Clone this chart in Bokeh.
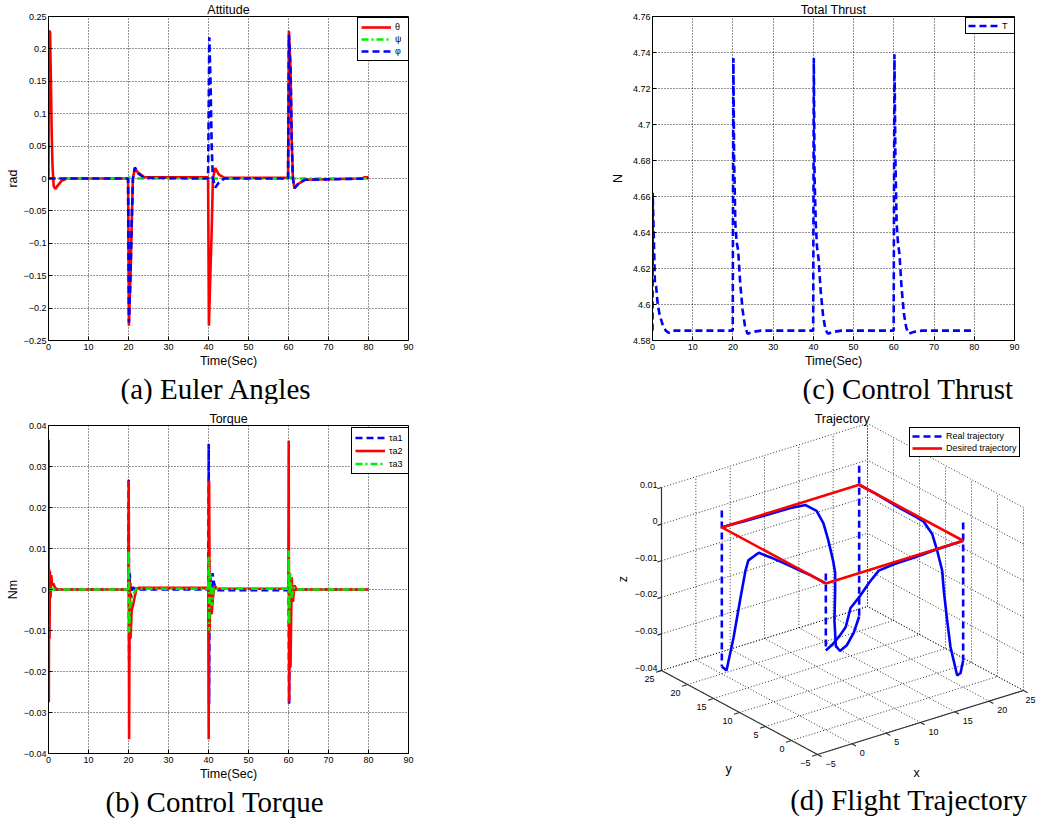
import numpy as np
from bokeh.plotting import figure
from bokeh.layouts import column, row
from bokeh.models import Range1d, FixedTicker, Legend, LegendItem, Title
from bokeh.embed import file_html
from bokeh.resources import INLINE
from bokeh.core.properties import value

SANS = "Liberation Sans"
SERIF = "Liberation Serif"
RED = "#ff0000"
GREEN = "#00ee00"
BLUE = "#0000ff"

# ---------------- data ----------------
TIME_TICKS = [0, 10, 20, 30, 40, 50, 60, 70, 80, 90]
ATT_TICKS = [-0.25, -0.2, -0.15, -0.1, -0.05, 0, 0.05, 0.1, 0.15, 0.2, 0.25]
TORQUE_TICKS = [-0.04, -0.03, -0.02, -0.01, 0, 0.01, 0.02, 0.03, 0.04]
THRUST_TICKS = [4.58, 4.6, 4.62, 4.64, 4.66, 4.68, 4.7, 4.72, 4.74, 4.76]

# (a) Euler angles
THETA_T = [0, 0.1, 0.4, 0.6, 0.8, 1.0, 1.3, 1.7, 2.3, 3.2, 4.5,
           19.9, 20.1, 20.5, 20.8, 21.1, 21.6, 22.4, 24.0,
           39.9, 40.1, 40.5, 40.8, 41.1, 41.7, 42.6, 44.0,
           59.9, 60.1, 60.5, 60.8, 61.1, 61.5, 62.3, 64.0,
           78.5, 79.0, 80.0]
THETA = [0, 0.228, 0.226, 0.15, 0.07, 0.02, -0.012, -0.016, -0.011, -0.004, 0.0,
         0.0, -0.227, -0.15, -0.07, 0.0, 0.016, 0.009, 0.002,
         0.002, -0.227, -0.14, -0.08, 0.0, 0.016, 0.006, 0.001,
         0.001, 0.228, 0.17, 0.06, 0.0, -0.015, -0.009, -0.002,
         0.0, 0.002, 0.002]
PSI_T = [0, 19.9, 20.3, 20.8, 21.5, 39.9, 40.3, 40.8, 41.5, 59.9, 60.3, 60.8, 61.5, 80]
PSI = [0, 0, 0.002, -0.001, 0, 0, -0.002, 0.001, 0, 0, 0.002, -0.001, 0, 0]
PHI_T = [0, 19.9, 20.1, 20.5, 20.8, 21.1, 21.6, 22.4, 24.0,
         39.9, 40.2, 40.5, 40.8, 41.1, 41.7, 42.6, 44.0,
         59.9, 60.1, 60.5, 60.8, 61.1, 61.5, 62.3, 64.0, 80.0]
PHI = [0, 0.0, -0.222, -0.15, -0.07, 0.0, 0.017, 0.008, 0.001,
       0.0, 0.218, 0.15, 0.05, 0.0, -0.014, -0.006, 0.0,
       0.0, 0.222, 0.17, 0.06, 0.0, -0.015, -0.009, -0.002, 0.0]

# (b) control torque
TAU1_T = [0, 0.05, 0.1, 0.3, 1.0,
          19.95, 20.05, 20.15, 20.3, 20.6, 21.0, 22.0,
          39.95, 40.05, 40.15, 40.3, 40.6, 41.0, 41.4, 42.0,
          59.95, 60.05, 60.15, 60.4, 60.8, 61.5, 80.0]
TAU1 = [0, 0.002, -0.002, 0.001, 0,
        0, 0.0272, -0.017, 0.004, -0.002, 0.0005, 0,
        0, 0.0355, -0.028, 0.004, -0.003, 0.004, 0.0015, -0.0002,
        -0.0002, 0.005, -0.028, 0.002, -0.001, 0, 0]
TAU2_T = [0, 0.03, 0.08, 0.15, 0.25, 0.35, 0.5, 0.7, 0.9, 1.2, 1.6, 2.2,
          19.95, 20.05, 20.15, 20.3, 20.5, 20.8, 21.1, 21.5, 22.0, 22.5,
          39.95, 40.05, 40.15, 40.3, 40.5, 40.8, 41.1, 41.5, 42.0, 42.5,
          59.95, 60.05, 60.15, 60.3, 60.5, 60.8, 61.1, 61.5, 62.0, 62.5,
          80.0]
TAU2 = [0, 0.0365, -0.0275, 0.005, -0.012, 0.0045, -0.002, 0.0035, 0.001, 0.0015, 0.0005, 0.0,
        0.0, 0.0265, -0.0365, 0.002, -0.012, -0.005, -0.004, -0.002, 0.0002, 0.0004,
        0.0004, -0.0365, 0.0265, -0.01, 0.003, -0.006, -0.002, 0.001, 0.0002, 0.0002,
        0.0002, 0.0363, -0.0275, 0.003, -0.019, 0.003, -0.003, 0.001, 0.0, 0.0,
        0.0]
TAU3_T = [0, 19.95, 20.05, 20.15, 20.4, 20.8, 21.3, 22.0,
          39.95, 40.05, 40.15, 40.4, 40.8, 41.3, 42.0,
          59.95, 60.05, 60.15, 60.4, 60.8, 61.3, 62.0, 80.0]
TAU3 = [0, 0, 0.0095, -0.0105, -0.004, -0.003, -0.001, 0.0002,
        0.0002, 0.008, -0.01, 0.004, -0.004, 0.0005, 0.0002,
        0.0002, 0.0095, -0.0085, 0.004, -0.002, 0.0005, 0.0, 0.0]

# (c) total thrust
THRUST_T = [0, 0.05, 0.3, 0.6, 0.9, 1.3, 1.8, 2.5, 3.3, 4.0, 5.0,
            19.95, 20.1, 20.3, 20.6, 20.9, 21.3, 21.8, 22.4, 23.0, 23.6, 25.0, 27.0,
            39.95, 40.1, 40.3, 40.6, 40.9, 41.3, 41.8, 42.4, 43.0, 43.6, 45.0, 47.0,
            59.95, 60.15, 60.4, 60.7, 61.0, 61.4, 61.9, 62.5, 63.1, 63.7, 65.0, 67.0,
            80.0]
THRUST = [4.5855, 4.662, 4.640, 4.612, 4.610, 4.600, 4.594, 4.589, 4.5855, 4.5843, 4.5855,
          4.5855, 4.737, 4.680, 4.645, 4.635, 4.630, 4.612, 4.597, 4.588, 4.5838, 4.5848, 4.5855,
          4.5855, 4.737, 4.670, 4.645, 4.632, 4.625, 4.608, 4.594, 4.586, 4.5838, 4.5848, 4.5855,
          4.5855, 4.739, 4.680, 4.645, 4.635, 4.628, 4.610, 4.595, 4.587, 4.5838, 4.5848, 4.5855,
          4.5855]

# (d) 3-D trajectory
X3_TICKS = [-5, 0, 5, 10, 15, 20, 25]
Y3_TICKS = [-5, 0, 5, 10, 15, 20, 25]
Z3_TICKS = [-0.04, -0.03, -0.02, -0.01, 0, 0.01]

DESIRED_X = [0, 20, 20, 0, 0]
DESIRED_Y = [0, 0, 20, 20, 0]
DESIRED_Z = [0, 0, 0, 0, 0]

# vertical jumps of the real trajectory at the waypoints
JUMP_X = [0, 20, 20, 0]
JUMP_Y = [0, 0, 20, 20]
JUMP_ZTOP = [0.0027, 0.0050, 0.0052, 0.0046]
JUMP_ZBOT = [-0.0183, -0.0327, -0.0360, -0.0380]

# recovery legs of the real trajectory
LEG1_X = [0, 1.0, 2.0, 2.9, 3.6, 5.0, 6.3, 7.7, 10, 13, 16, 20]
LEG1_Y = [0, 0, 0, 0, 0, 0, 0, 0, 0, 0, 0, 0]
LEG1_Z = [-0.0183, -0.0172, -0.0155, -0.0136, -0.0088, -0.0063, -0.0035, -0.0010, -0.0005, -0.0004, -0.0001, 0]
LEG2_X = [20, 20, 20, 20, 20, 20, 20, 20, 20, 20, 20, 20, 20, 20, 20]
LEG2_Y = [0, 0.5, 1.15, 2.44, 3.08, 3.73, 4.04, 5.0, 5.96, 7.58, 9, 12, 15, 17, 20]
LEG2_Z = [-0.0327, -0.0365, -0.0377, -0.0309, -0.0241, -0.0164, -0.0112, -0.0065, -0.0027, -0.0006,
          -0.0004, -0.0004, -0.0002, 0, 0]
LEG3_X = [20, 19.2, 18.2, 17.2, 16.6, 16.4, 16.5, 16.5, 16.2, 15.5, 14.8, 13.8, 12.2, 10, 6, 3, 1, 0]
LEG3_Y = [20, 20, 20, 20, 20, 20, 20, 20, 20, 20, 20, 20, 20, 20, 20, 20, 20, 20]
LEG3_Z = [-0.036, -0.040, -0.0428, -0.0438, -0.042, -0.035, -0.027, -0.022, -0.0185, -0.0125,
          -0.0075, -0.0035, -0.001, -0.0005, -0.0004, -0.0002, 0, 0]
LEG4_X = [0, 0, 0, 0, 0, 0, 0, 0, 0, 0, 0, 0, 0]
LEG4_Y = [20, 19.1, 17.75, 16.4, 15.45, 14.9, 12.9, 10.6, 9.3, 7, 5, 3, 0]
LEG4_Z = [-0.038, -0.0384, -0.0284, -0.0164, -0.0083, -0.0051, -0.0015, -0.001, -0.0008, -0.0005,
          -0.0003, 0, 0]


# ---------------- helpers ----------------
def fmt_tick(v):
    return ("%g" % v).replace("-", "\u2212")


def panel(width, height, borders, y_lim, y_ticks, y_label, y_label_standoff, title, caption, cap_align, cap_offset):
    left, right, top, bottom = borders
    p = figure(width=width, height=height, x_range=Range1d(0, 90), y_range=Range1d(*y_lim),
               output_backend="svg", toolbar_location=None, title=title,
               min_border_left=left, min_border_right=right,
               min_border_top=top, min_border_bottom=bottom)
    p.background_fill_color = "white"
    p.border_fill_color = "white"
    p.outline_line_color = "black"
    p.outline_line_width = 1
    p.outline_line_alpha = 1.0
    p.title.align = "center"
    p.title.text_font = SANS
    p.title.text_font_size = "12.5px"
    p.title.text_font_style = "normal"
    p.title.text_color = "black"
    p.title.standoff = 0
    for ax, ticks in ((p.xaxis, TIME_TICKS), (p.yaxis, y_ticks)):
        ax.ticker = FixedTicker(ticks=ticks)
        ax.major_label_overrides = {t: fmt_tick(t) for t in ticks}
        ax.major_label_text_font = SANS
        ax.major_label_text_font_size = "9px"
        ax.major_label_text_color = "black"
        ax.axis_line_color = "black"
        ax.major_tick_line_color = "black"
        ax.major_tick_in = 4
        ax.major_tick_out = 0
        ax.minor_tick_in = 0
        ax.minor_tick_out = 0
        ax.axis_label_text_font = SANS
        ax.axis_label_text_font_size = "12.5px"
        ax.axis_label_text_font_style = "normal"
        ax.axis_label_text_color = "black"
    p.xaxis.major_label_standoff = 3
    p.xaxis.axis_label_standoff = 1
    p.yaxis.major_label_standoff = 2
    p.yaxis.axis_label_standoff = y_label_standoff
    p.xaxis.axis_label = "Time(Sec)"
    p.yaxis.axis_label = y_label
    for g, ticks in ((p.xgrid, TIME_TICKS), (p.ygrid, y_ticks)):
        g.ticker = FixedTicker(ticks=ticks)
        g.grid_line_color = "black"
        g.grid_line_dash = "1 2"
        g.grid_line_alpha = 0.85
        g.grid_line_width = 1
    p.add_layout(Title(text=caption, align=cap_align, offset=cap_offset, text_font=SERIF,
                       text_font_size="29px", text_font_style="normal", text_color="black",
                       standoff=0), "below")
    return p


def make_legend(items, loc, glyph_w, row_h, padding):
    return Legend(items=[LegendItem(label=l, renderers=[r]) for l, r in items],
                  location=loc, margin=0, padding=padding, spacing=0,
                  glyph_width=glyph_w, glyph_height=row_h, label_height=row_h,
                  label_standoff=4, label_text_font=SANS, label_text_font_size="9px",
                  label_text_color="black", border_line_color="black", border_line_width=1,
                  border_line_alpha=1.0, background_fill_color="white", background_fill_alpha=1.0)


H1, H2 = 404, 417
W1, W2 = 520, 518

# ---------------- (a) Euler angles ----------------
pa = panel(W1, H1, (48, 112, 16, 62), (-0.25, 0.25), ATT_TICKS, "rad", 1,
           "Attitude", "(a) Euler Angles", "left", 72)
r_th = pa.line(THETA_T, THETA, line_color=RED, line_width=2.6)
r_ps = pa.line(PSI_T, PSI, line_color=GREEN, line_width=2.6, line_dash="7 3 2 3")
r_ph = pa.line(PHI_T, PHI, line_color=BLUE, line_width=2.6, line_dash="7 4")
pa.add_layout(make_legend([("\u03b8", r_th), ("\u03c8", r_ps), ("\u03c6", r_ph)], (309, 279), 30, 12, 3))

# ---------------- (c) total thrust ----------------
pc = panel(W2, H1, (132, 24, 16, 62), (4.58, 4.76), THRUST_TICKS, "N", 5,
           "Total Thrust", "(c) Control Thrust", "right", 1)
r_T = pc.line(THRUST_T, THRUST, line_color=BLUE, line_width=2.6, line_dash="7 4")
pc.add_layout(make_legend([("T", r_T)], (313, 306), 30, 11, 2))

# ---------------- (b) control torque ----------------
pb = panel(W1, H2, (48, 112, 21, 68), (-0.04, 0.04), TORQUE_TICKS, "Nm", 1,
           "Torque", "(b) Control Torque", "left", 57)
r_t1 = pb.line(TAU1_T, TAU1, line_color=BLUE, line_width=2.6, line_dash="7 4")
r_t2 = pb.line(TAU2_T, TAU2, line_color=RED, line_width=2.6)
r_t3 = pb.line(TAU3_T, TAU3, line_color=GREEN, line_width=2.6, line_dash="7 3 2 3")
pb.add_layout(make_legend([("\u03c4a1", r_t1), ("\u03c4a2", r_t2), ("\u03c4a3", r_t3)], (303, 279), 30, 13, 3))

# ---------------- (d) 3-D trajectory ----------------
X3_MIN, X3_MAX = X3_TICKS[0], X3_TICKS[-1]
Y3_MIN, Y3_MAX = Y3_TICKS[0], Y3_TICKS[-1]
Z3_MIN, Z3_MAX = Z3_TICKS[0], Z3_TICKS[-1]
ORIGIN = (817.0, 754.0)          # screen position of (xmin, ymin, zmin)
EX = (206.0 / 30, -64.0 / 30)    # screen step per x unit
EY = (-156.0 / 30, -84.0 / 30)   # screen step per y unit
EZ = -183.0 / 0.05               # screen step per z unit (vertical)


def proj(xs, ys, zs):
    xs = np.asarray(xs, float) - X3_MIN
    ys = np.asarray(ys, float) - Y3_MIN
    zs = np.asarray(zs, float) - Z3_MIN
    sx = ORIGIN[0] + xs * EX[0] + ys * EY[0]
    sy = ORIGIN[1] + xs * EX[1] + ys * EY[1] + zs * EZ
    return sx.tolist(), sy.tolist()


pd = figure(width=W2, height=H2, x_range=Range1d(W1, W1 + W2), y_range=Range1d(H1 + H2, H1),
            output_backend="svg", toolbar_location=None,
            x_axis_location=None, y_axis_location=None,
            min_border_left=0, min_border_right=0, min_border_top=0, min_border_bottom=0)
pd.grid.visible = False
pd.outline_line_color = None
pd.background_fill_color = "white"
pd.border_fill_color = "white"

grid_xs, grid_ys = [], []


def add_seg(p0, p1, xs_list, ys_list):
    sx, sy = proj([p0[0], p1[0]], [p0[1], p1[1]], [p0[2], p1[2]])
    xs_list.append(sx)
    ys_list.append(sy)


for xt in X3_TICKS:
    add_seg((xt, Y3_MIN, Z3_MIN), (xt, Y3_MAX, Z3_MIN), grid_xs, grid_ys)
    add_seg((xt, Y3_MAX, Z3_MIN), (xt, Y3_MAX, Z3_MAX), grid_xs, grid_ys)
for yt in Y3_TICKS:
    add_seg((X3_MIN, yt, Z3_MIN), (X3_MAX, yt, Z3_MIN), grid_xs, grid_ys)
    add_seg((X3_MAX, yt, Z3_MIN), (X3_MAX, yt, Z3_MAX), grid_xs, grid_ys)
for zt in Z3_TICKS:
    add_seg((X3_MIN, Y3_MAX, zt), (X3_MAX, Y3_MAX, zt), grid_xs, grid_ys)
    add_seg((X3_MAX, Y3_MIN, zt), (X3_MAX, Y3_MAX, zt), grid_xs, grid_ys)
pd.multi_line(grid_xs, grid_ys, line_color="black", line_width=1, line_dash="1 2", line_alpha=0.8)

ax_xs, ax_ys = [], []
add_seg((X3_MIN, Y3_MIN, Z3_MIN), (X3_MAX, Y3_MIN, Z3_MIN), ax_xs, ax_ys)
add_seg((X3_MIN, Y3_MIN, Z3_MIN), (X3_MIN, Y3_MAX, Z3_MIN), ax_xs, ax_ys)
add_seg((X3_MIN, Y3_MAX, Z3_MIN), (X3_MIN, Y3_MAX, Z3_MAX), ax_xs, ax_ys)
for xt in X3_TICKS:
    add_seg((xt, Y3_MIN, Z3_MIN), (xt, Y3_MIN - 0.8, Z3_MIN), ax_xs, ax_ys)
for yt in Y3_TICKS:
    add_seg((X3_MIN, yt, Z3_MIN), (X3_MIN - 0.8, yt, Z3_MIN), ax_xs, ax_ys)
for zt in Z3_TICKS:
    add_seg((X3_MIN, Y3_MAX, zt), (X3_MIN - 0.6, Y3_MAX, zt), ax_xs, ax_ys)
pd.multi_line(ax_xs, ax_ys, line_color="#333333", line_width=1.2)

legs = [(LEG1_X, LEG1_Y, LEG1_Z), (LEG2_X, LEG2_Y, LEG2_Z), (LEG3_X, LEG3_Y, LEG3_Z), (LEG4_X, LEG4_Y, LEG4_Z)]
leg_xs, leg_ys = [], []
for lx, ly, lz in legs:
    sx, sy = proj(lx, ly, lz)
    leg_xs.append(sx)
    leg_ys.append(sy)
pd.multi_line(leg_xs, leg_ys, line_color=BLUE, line_width=2.6)

jump_xs, jump_ys = [], []
for jx, jy, jt, jb in zip(JUMP_X, JUMP_Y, JUMP_ZTOP, JUMP_ZBOT):
    add_seg((jx, jy, jt), (jx, jy, jb), jump_xs, jump_ys)
r_real = pd.multi_line(jump_xs, jump_ys, line_color=BLUE, line_width=2.6, line_dash="7 4")

dx, dy = proj(DESIRED_X, DESIRED_Y, DESIRED_Z)
r_des = pd.line(dx, dy, line_color=RED, line_width=2.6)

# tick labels (kept inside the page on the right edge)
RIGHT_LIMIT = W1 + W2 - 13
tx, ty = proj(X3_TICKS, [Y3_MIN] * len(X3_TICKS), [Z3_MIN] * len(X3_TICKS))
pd.text([min(v + 8, RIGHT_LIMIT) for v in tx], [v + 9 for v in ty], [fmt_tick(t) for t in X3_TICKS],
        text_font=value(SANS), text_font_size=value("9px"), text_align="left",
        text_baseline="middle", text_color="black")
tx, ty = proj([X3_MIN] * len(Y3_TICKS), Y3_TICKS, [Z3_MIN] * len(Y3_TICKS))
pd.text([v - 7 for v in tx], [v + 8 for v in ty], [fmt_tick(t) for t in Y3_TICKS],
        text_font=value(SANS), text_font_size=value("9px"), text_align="right",
        text_baseline="middle", text_color="black")
tx, ty = proj([X3_MIN] * len(Z3_TICKS), [Y3_MAX] * len(Z3_TICKS), Z3_TICKS)
pd.text([v - 4 for v in tx], [v - 3 for v in ty], [fmt_tick(t) for t in Z3_TICKS],
        text_font=value(SANS), text_font_size=value("9px"), text_align="right",
        text_baseline="middle", text_color="black")

# axis labels
lx, ly = proj([10], [Y3_MIN], [Z3_MIN])
pd.text([lx[0] - 4], [ly[0] + 50], ["x"], text_font=value(SANS), text_font_size=value("12.5px"),
        text_align="center", text_baseline="middle", text_color="black")
lx, ly = proj([X3_MIN], [10], [Z3_MIN])
pd.text([lx[0] - 11], [ly[0] + 56], ["y"], text_font=value(SANS), text_font_size=value("12.5px"),
        text_align="center", text_baseline="middle", text_color="black")
lx, ly = proj([X3_MIN], [Y3_MAX], [-0.015])
pd.text([lx[0] - 39], [ly[0]], ["z"], text_font=value(SANS), text_font_size=value("12.5px"),
        text_align="center", text_baseline="middle", text_color="black", angle=np.pi / 2)

pd.text([841.7], [418], ["Trajectory"], text_font=value(SANS), text_font_size=value("12.5px"),
        text_align="center", text_baseline="alphabetic", text_color="black")
pd.text([1027], [799], ["(d) Flight Trajectory"], text_font=value(SERIF), text_font_size=value("29px"),
        text_align="right", text_baseline="middle", text_color="black")

pd.add_layout(make_legend([("Real trajectory", r_real), ("Desired trajectory", r_des)],
                          (389, H1 + H2 - 457), 30, 12, 2))

for fig in (pa, pb, pc, pd):
    if "frame_align" in fig.properties():
        fig.frame_align = False

layout = column(row(pa, pc), row(pb, pd))
open("out.html", "w").write(file_html(layout, INLINE))
